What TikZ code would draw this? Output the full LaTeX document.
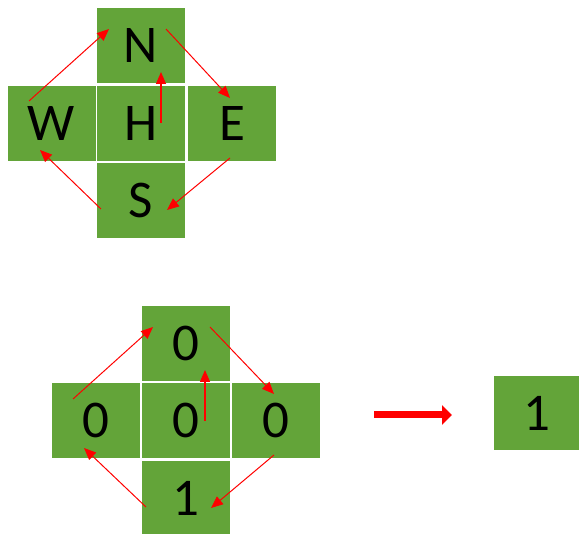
\documentclass[tikz,border=0pt]{standalone}
\usepackage{fontspec}
\setmainfont{Carlito}
\usetikzlibrary{arrows.meta}
\definecolor{cellgreen}{RGB}{99,164,57}
\definecolor{arrowred}{RGB}{255,0,0}
\tikzset{
  cell/.style={fill=cellgreen, inner sep=0pt, minimum width=88pt, minimum height=75pt,
    font=\fontsize{53}{64}\selectfont, text=black},
  thinarrow/.style={draw=arrowred, line width=1pt, -{Triangle[length=12pt,width=10pt]}},
  bigarrow/.style={draw=arrowred, line width=7pt, -{Triangle[length=10pt,width=19pt]}}
}
\begin{document}
\begin{tikzpicture}[x=1pt,y=-1pt]
\useasboundingbox (0,0) rectangle (579,534);
% top cross
\node[cell] (tN) at (141,46) {N};
\node[cell] (tW) at (51.5,123.5) {W};
\node[cell] (tH) at (141,123.5) {H};
\node[cell] (tE) at (232,123.5) {E};
\node[cell] (tS) at (141,200.5) {S};
\coordinate (a1s) at (29,101);  \coordinate (a1e) at (109,29);
\coordinate (a2s) at (166,29);  \coordinate (a2e) at (230,98);
\coordinate (a3s) at (230,158); \coordinate (a3e) at (167,210);
\coordinate (a4s) at (101,209); \coordinate (a4e) at (40,150);
\coordinate (a5s) at (161,123); \coordinate (a5e) at (161,72);
\draw[thinarrow] (a1s) -- (a1e);
\draw[thinarrow] (a2s) -- (a2e);
\draw[thinarrow] (a3s) -- (a3e);
\draw[thinarrow] (a4s) -- (a4e);
\draw[thinarrow, line width=1.3pt] (a5s) -- (a5e);
% bottom cross
\node[cell] (bN) at (185.5,343.5) {0};
\node[cell] (bW) at (95.5,420.5) {0};
\node[cell] (bC) at (185.5,420.5) {0};
\node[cell] (bE) at (275.5,420.5) {0};
\node[cell] (bS) at (185.5,498.5) {1};
\coordinate (b1s) at (73,399);  \coordinate (b1e) at (153,327);
\coordinate (b2s) at (210,327); \coordinate (b2e) at (274,394);
\coordinate (b3s) at (274,455); \coordinate (b3e) at (211,508);
\coordinate (b4s) at (146,507); \coordinate (b4e) at (84,448);
\coordinate (b5s) at (205,421); \coordinate (b5e) at (205,370);
\draw[thinarrow] (b1s) -- (b1e);
\draw[thinarrow] (b2s) -- (b2e);
\draw[thinarrow] (b3s) -- (b3e);
\draw[thinarrow] (b4s) -- (b4e);
\draw[thinarrow, line width=1.3pt] (b5s) -- (b5e);
% result
\node[cell, minimum width=85pt, minimum height=74pt] (res) at (536.5,413) {1};
\coordinate (bigs) at (374,415); \coordinate (bige) at (452,415);
\draw[bigarrow] (bigs) -- (bige);
\end{tikzpicture}
\end{document}
